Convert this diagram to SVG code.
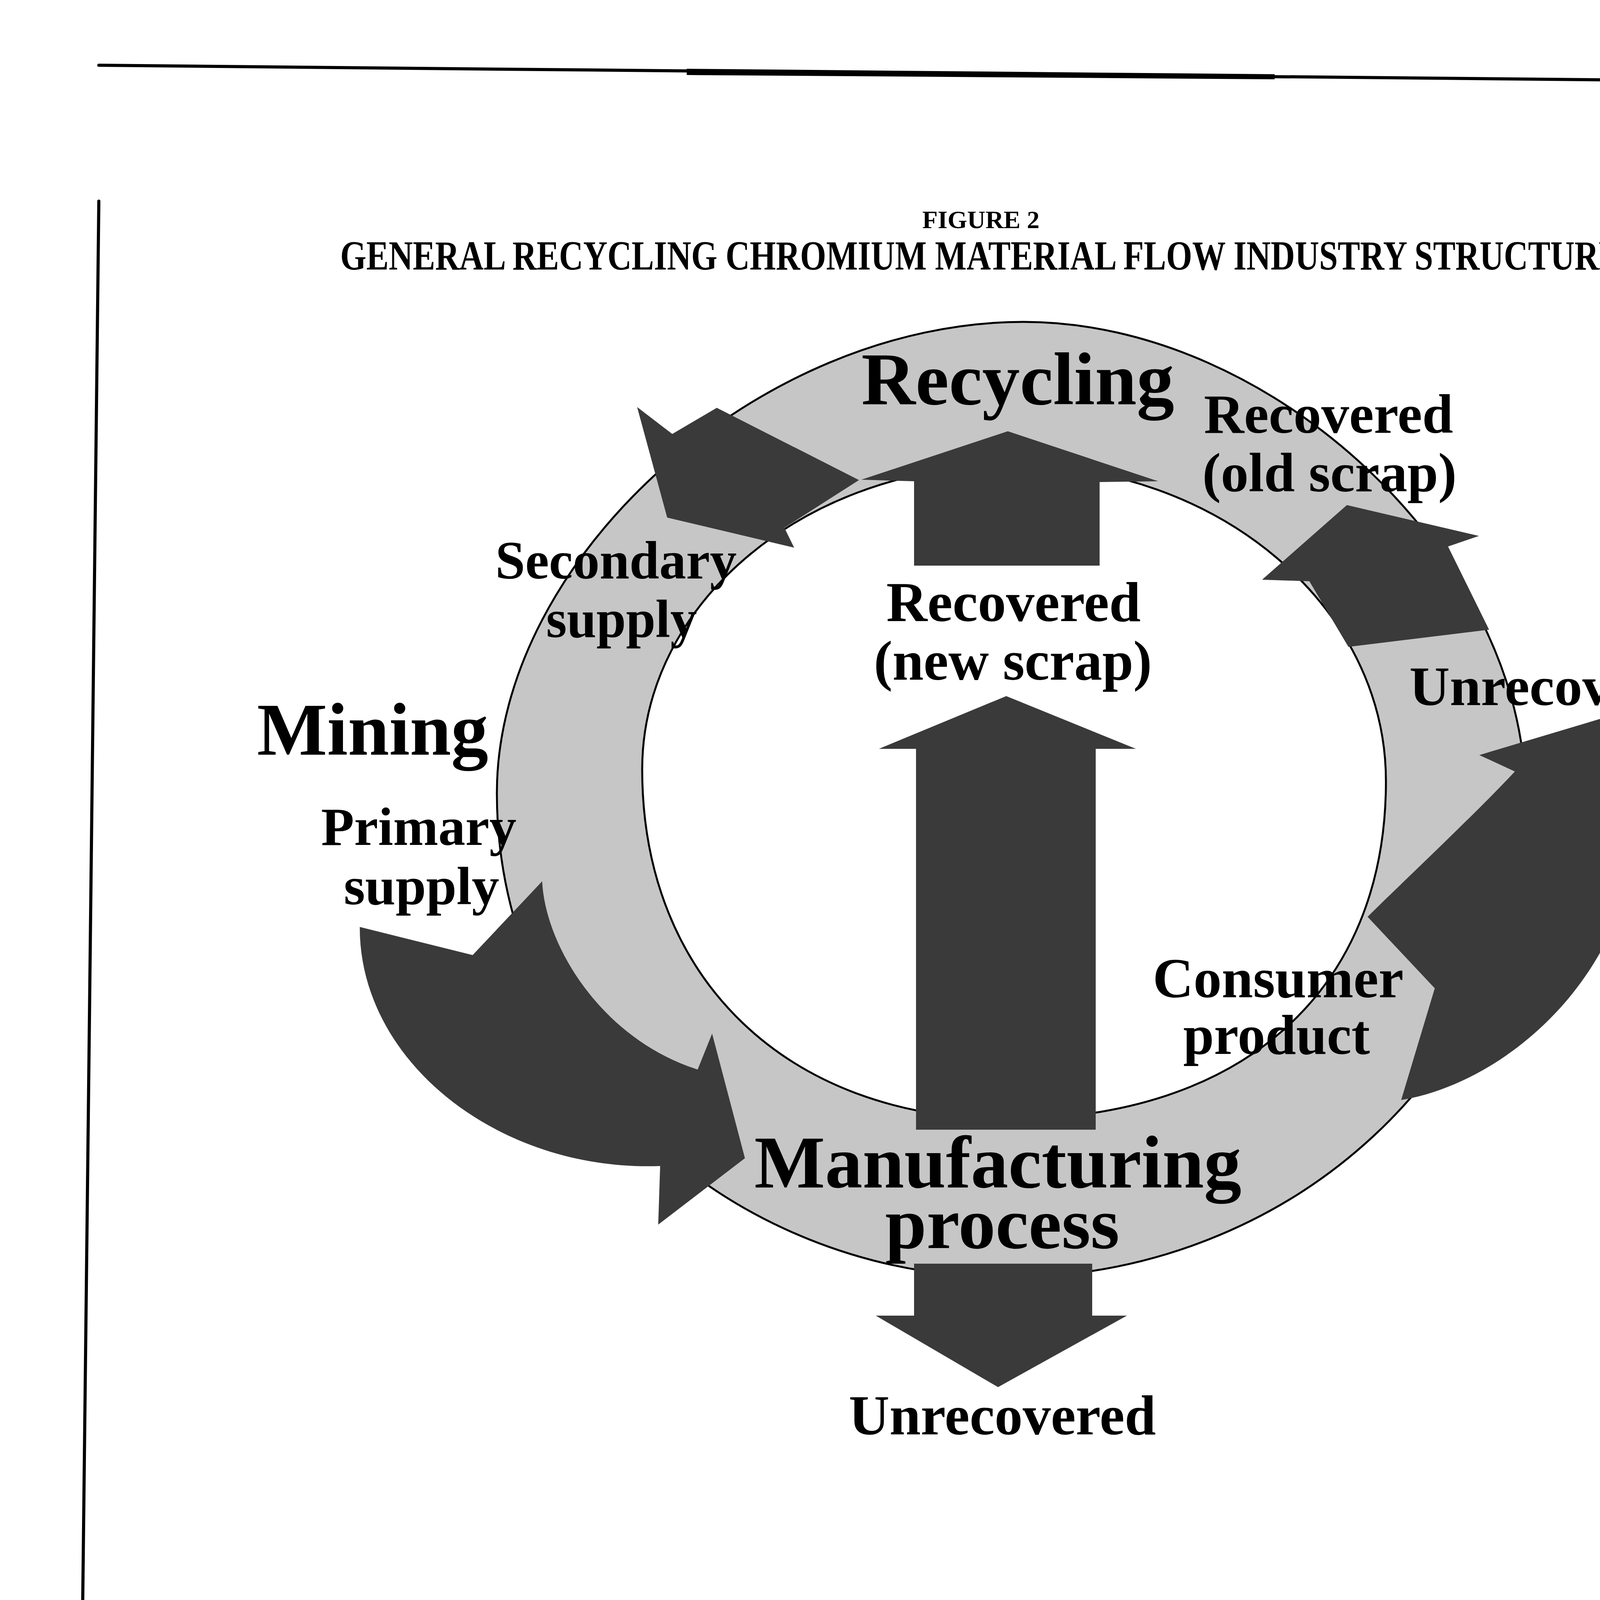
<svg xmlns="http://www.w3.org/2000/svg" width="4967" height="6605" viewBox="0 0 4967 6605">
<style>
.frame{stroke:#000;stroke-width:8;fill:none;stroke-linecap:round}
.ring{fill:#c6c6c6;stroke:#000;stroke-width:5;fill-rule:evenodd}
.arrow{fill:#3a3a3a;stroke:none}
.txt{font-family:"Liberation Serif","Times New Roman",serif;font-weight:bold;fill:#000}
</style>
<rect width="4967" height="6605" fill="#fff"/>
<g id="page">
<path class="frame" d="M253,167 L4783,211"/>
<polygon points="1758,176 3263,190 3263,203 1758,192" fill="#000"/>
<path class="frame" d="M253,515 L190,5993"/>
<path class="frame" d="M4783,561 L4727,6043"/>
<text class="txt" x="2361" y="584" font-size="64" textLength="300" lengthAdjust="spacingAndGlyphs">FIGURE 2</text>
<text class="txt" x="871" y="690" font-size="106" textLength="3279" lengthAdjust="spacingAndGlyphs">GENERAL RECYCLING CHROMIUM MATERIAL FLOW INDUSTRY STRUCTURE</text>
<text class="txt" x="188" y="6194" font-size="64" textLength="570" lengthAdjust="spacingAndGlyphs">CHROMIUM—1992</text>
<text class="txt" x="4584" y="6215" font-size="85" textLength="127" lengthAdjust="spacingAndGlyphs">371</text>
</g>
<g id="ring">
<path class="ring" d="M1272,2030 C1272,1427 1946,824 2620,824 C3262.5,824 3905,1432 3905,2040 C3905,2716.5 3308.75,3270 2580,3270 C1857.6,3270 1272,2714.9 1272,2030 Z M1644,1970 C1644,1539.2 2067.5,1190 2590,1190 C3119.1,1190 3548,1552.6 3548,2000 C3548,2536.3 3180.2,2865 2580,2865 C2018.4,2865 1644,2507 1644,1970 Z"/>
</g>
<g id="connectors">
<polygon id="arrow-recycling" class="arrow" points="2580,1104 2965,1232 2815,1234 2815,1448 2340,1448 2340,1232 2205,1228"/>
<polygon id="arrow-new-scrap" class="arrow" points="2576,1782 2908,1917 2805,1917 2805,2892 2345,2892 2345,1917 2250,1917"/>
<polygon id="arrow-unrecovered-bottom" class="arrow" points="2340,3235 2796,3235 2796,3368 2885,3368 2555,3551 2242,3368 2340,3368"/>
<polygon id="arrow-secondary" class="arrow" points="1631,1042 1721,1111 1835,1044 2199,1229 2008,1351 2033,1402 1708,1325"/>
<polygon id="arrow-old-scrap" class="arrow" points="3448,1293 3786,1372 3707,1399 3812,1612 3452,1656 3352,1488 3231,1484"/>
<path id="arrow-primary" class="arrow" d="M921,2373 L1210,2445 L1388,2256 C1395,2420 1540,2660 1786,2738 L1823,2646 L1907,2965 L1685,3135 L1690,2985 C1280,3000 920,2720 921,2373 Z"/>
<path id="arrow-consumer" class="arrow" d="M3501,2347 L3673,2530 L3587,2816 C3870,2770 4200,2470 4190,2068 L4190,2043 L4293,2040 L4161,1821 L3787,1933 L3878,1975 C3790,2070 3620,2230 3501,2347 Z"/>
</g>
<g id="node-recycling">
<text class="txt" x="2205" y="1035" font-size="190" textLength="801" lengthAdjust="spacingAndGlyphs">Recycling</text>
</g>
<g id="node-old-scrap">
<text class="txt" x="3082" y="1108" font-size="141" textLength="638" lengthAdjust="spacingAndGlyphs">Recovered</text>
<text class="txt" x="3078" y="1258" font-size="141" textLength="651" lengthAdjust="spacingAndGlyphs">(old scrap)</text>
</g>
<g id="node-secondary">
<text class="txt" x="1268" y="1481" font-size="138" textLength="618" lengthAdjust="spacingAndGlyphs">Secondary</text>
<text class="txt" x="1398" y="1631" font-size="138" textLength="386" lengthAdjust="spacingAndGlyphs">supply</text>
</g>
<g id="node-mining">
<text class="txt" x="658" y="1932" font-size="190" textLength="592" lengthAdjust="spacingAndGlyphs">Mining</text>
</g>
<g id="node-primary">
<text class="txt" x="822" y="2163" font-size="138" textLength="500" lengthAdjust="spacingAndGlyphs">Primary</text>
<text class="txt" x="880" y="2315" font-size="138" textLength="398" lengthAdjust="spacingAndGlyphs">supply</text>
</g>
<g id="node-new-scrap">
<text class="txt" x="2269" y="1590" font-size="144" textLength="651" lengthAdjust="spacingAndGlyphs">Recovered</text>
<text class="txt" x="2237" y="1740" font-size="144" textLength="712" lengthAdjust="spacingAndGlyphs">(new scrap)</text>
</g>
<g id="node-unrecovered-right">
<text class="txt" x="3608" y="1805" font-size="142" textLength="782" lengthAdjust="spacingAndGlyphs">Unrecovered</text>
</g>
<g id="node-consumer">
<text class="txt" x="2951" y="2553" font-size="143" textLength="642" lengthAdjust="spacingAndGlyphs">Consumer</text>
<text class="txt" x="3029" y="2698" font-size="143" textLength="478" lengthAdjust="spacingAndGlyphs">product</text>
</g>
<g id="node-manufacturing">
<text class="txt" x="1931" y="3040" font-size="190" textLength="1247" lengthAdjust="spacingAndGlyphs">Manufacturing</text>
<text class="txt" x="2266" y="3195" font-size="186" textLength="600" lengthAdjust="spacingAndGlyphs">process</text>
</g>
<g id="node-unrecovered-bottom">
<text class="txt" x="2173" y="3672" font-size="143" textLength="786" lengthAdjust="spacingAndGlyphs">Unrecovered</text>
</g>
</svg>
